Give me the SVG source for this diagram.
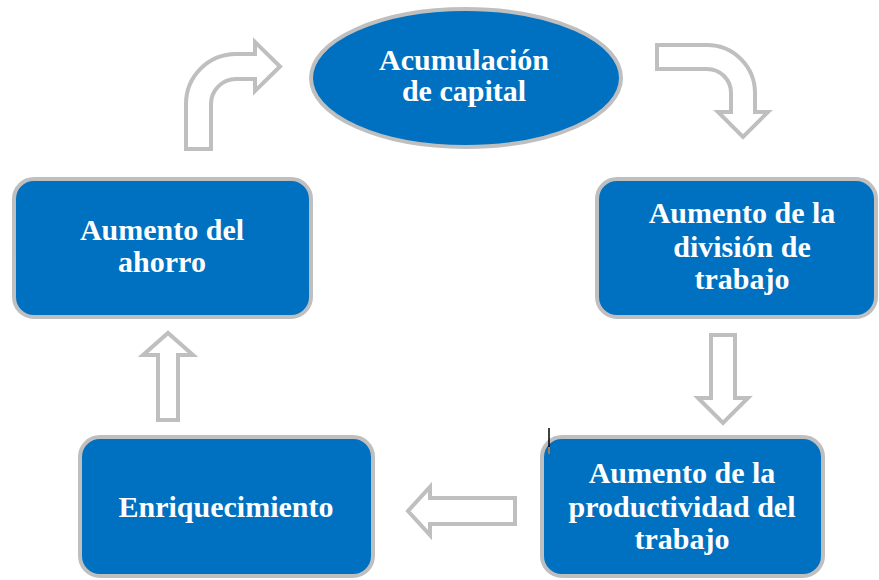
<svg xmlns="http://www.w3.org/2000/svg" width="879" height="580" viewBox="0 0 879 580">
<style>
.box{fill:#0070C0;stroke:#BFBFBF;stroke-width:4}
.arr{fill:#FFFFFF;stroke:#BFBFBF;stroke-width:4;stroke-linejoin:miter}
.t{font-family:"Liberation Serif","Times New Roman",serif;font-weight:bold;font-size:30px;fill:#FFFFFF;text-anchor:middle}
</style>
<rect width="879" height="580" fill="#FFFFFF"/>
<g id="connectors">
<path class="arr" d="M186,149 V104 A50,50 0 0 1 236,54 H255 V42 L280,66.5 L255,91 V79 H236 A25,25 0 0 0 211,104 V149 Z"/>
<path class="arr" d="M657,45 H707 A48,48 0 0 1 755,93 V112 H768 L743,137 L718,112 H731 V93 A24,24 0 0 0 707,69 H657 Z"/>
<path class="arr" d="M711,335 H735 V398 H748 L723,423 L698,398 H711 Z"/>
<path class="arr" d="M515,498 V524 H430 V535 L408,511 L430,487 V498 Z"/>
<path class="arr" d="M158,420 V355 H143 L168,333 L193,355 H178 V420 Z"/>
</g>
<g id="acumulacion">
<ellipse class="box" cx="466" cy="78" rx="155" ry="69"/>
<text class="t" x="464" y="70">Acumulación</text>
<text class="t" x="464" y="101">de capital</text>
</g>
<g id="division">
<rect class="box" x="597" y="179" width="279" height="138" rx="20"/>
<text class="t" x="742" y="223">Aumento de la</text>
<text class="t" x="742" y="257">división de</text>
<text class="t" x="742" y="289">trabajo</text>
</g>
<g id="productividad">
<rect class="box" x="542" y="437" width="281" height="139" rx="20"/>
<text class="t" x="682" y="483">Aumento de la</text>
<text class="t" x="682" y="517">productividad del</text>
<text class="t" x="682" y="549">trabajo</text>
</g>
<g id="enriquecimiento">
<rect class="box" x="80" y="437" width="293" height="139" rx="20"/>
<text class="t" x="226" y="517">Enriquecimiento</text>
</g>
<g id="ahorro">
<rect class="box" x="14" y="179" width="297" height="138" rx="20"/>
<text class="t" x="162" y="240">Aumento del</text>
<text class="t" x="162" y="272">ahorro</text>
</g>
<g id="cursor">
<line x1="549" y1="428" x2="549" y2="447" stroke="#000000" stroke-width="1.5"/>
<line x1="549" y1="447" x2="549" y2="454" stroke="#E07B20" stroke-width="1.5"/>
</g>
</svg>
